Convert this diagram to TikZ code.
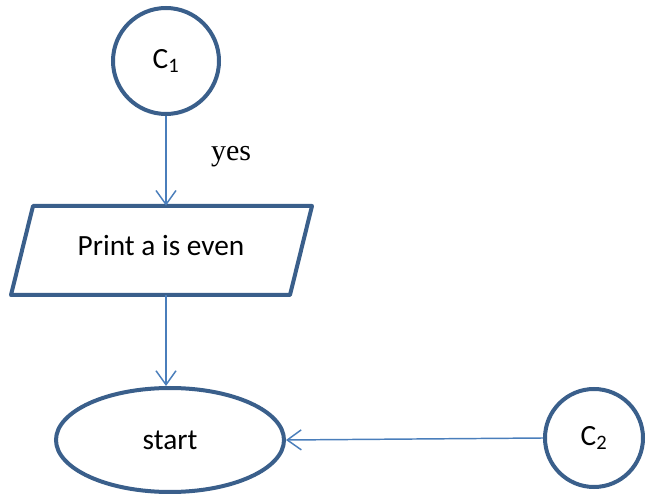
\documentclass[tikz,border=0pt]{standalone}
\usepackage{fontspec}
\setmainfont{Carlito}
\newfontfamily\timesfont{Liberation Serif}
\usetikzlibrary{shapes.geometric,arrows.meta}
\definecolor{shapeblue}{HTML}{3A5F8B}
\definecolor{arrowblue}{HTML}{4A7EBB}
\begin{document}
\begin{tikzpicture}[x=0.75pt,y=-0.75pt,
  outline/.style={draw=shapeblue,line width=3pt,fill=white},
  txt/.style={font=\fontsize{22}{26}\selectfont,inner sep=0pt},
  flow/.style={draw=arrowblue,line width=1.1pt,
    -{Straight Barb[length=10.5pt,width=15pt,line width=1.1pt]}}]
\useasboundingbox (0,0) rectangle (647,495);
% connector circle C1
\node[outline,circle,minimum size=79.5pt,txt] (c1) at (166,61) {C\textsubscript{1}};
% input/output parallelogram
\draw[outline,line join=round] (33,206) -- (312,206) -- (290,295) -- (11,295) -- cycle;
\node[txt,minimum width=200pt,minimum height=66.75pt] (print) at (161.5,250.5) {};
\node[txt] (printtext) at (161,246) {Print a is even};
% terminal ellipse
\node[outline,ellipse,minimum width=171pt,minimum height=78pt,txt] (start) at (170,440) {start};
% connector circle C2
\node[outline,circle,minimum size=73.5pt,txt] (c2) at (594,438) {C\textsubscript{2}};
% connectors
\draw[flow] (c1.south) -- (c1.south |- print.north);
\node[txt,font=\timesfont\fontsize{22.5}{26}\selectfont] (yes) at (231,157) {yes};
\draw[flow] (c1.south |- print.south) -- (c1.south |- start.north);
\draw[flow] (c2.west) -- (start.east);
\end{tikzpicture}
\end{document}
